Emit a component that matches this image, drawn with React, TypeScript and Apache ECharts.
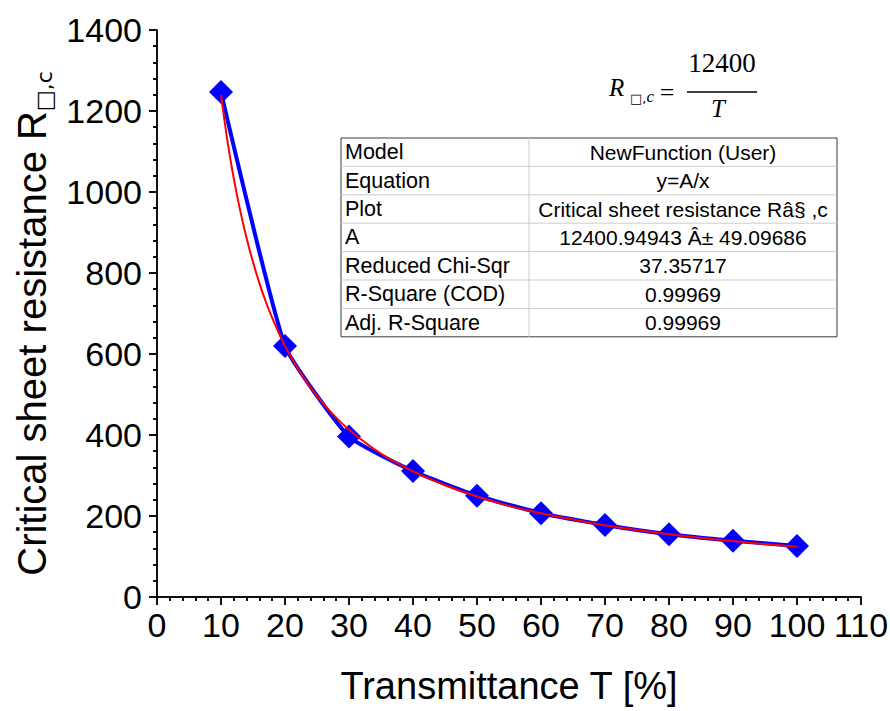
import React, { useEffect, useRef } from "react";
import * as echarts from "echarts";

const transmittance = [10, 20, 30, 40, 50, 60, 70, 80, 90, 100];
const sheetResistance = [1247, 620, 396, 311, 250, 207, 178, 155, 139, 126];

const fitX = [10, 11, 12, 13, 14, 15, 16, 17, 18, 19, 20, 22, 24, 26, 28, 30, 33, 36, 40, 45, 50, 55, 60, 70, 80, 90, 100];
const fitY = [1240, 1127, 1033, 954, 886, 827, 775, 729, 689, 653, 620, 564, 517, 477, 443, 413, 376, 344, 310, 276, 248, 225, 207, 177, 155, 138, 124];

const tableLabels = ["Model", "Equation", "Plot", "A", "Reduced Chi-Sqr", "R-Square (COD)", "Adj. R-Square"];
const tableValues = [
  "NewFunction (User)",
  "y=A/x",
  "Critical sheet resistance Râ§ ,c",
  "12400.94943 Â± 49.09686",
  "37.35717",
  "0.99969",
  "0.99969",
];

const FONT = "'Liberation Sans', Arial, sans-serif";
const SERIF = "'Liberation Serif', 'DejaVu Serif', serif";
const W = 890;
const H = 711;

export default function App() {
  const ref = useRef<HTMLDivElement>(null);
  useEffect(() => {
    if (!ref.current) return;
    document.body.style.margin = "0";
    document.body.style.overflow = "hidden";
    const chart = echarts.init(ref.current, undefined, { renderer: "svg" });

    const tLeft = 341, tRight = 837, tTop = 138, rowH = 28.4, colX = 529;
    const tableEls: any[] = [];
    tableEls.push({
      type: "rect",
      shape: { x: tLeft, y: tTop, width: tRight - tLeft, height: rowH * 7 },
      style: { fill: "#fff", stroke: "#3a3a3a", lineWidth: 1 },
      z: 10,
    });
    for (let i = 1; i < 7; i++) {
      tableEls.push({
        type: "line",
        shape: { x1: tLeft, y1: tTop + rowH * i, x2: tRight, y2: tTop + rowH * i },
        style: { stroke: "#cccccc", lineWidth: 1 },
        z: 11,
      });
    }
    tableEls.push({
      type: "line",
      shape: { x1: colX, y1: tTop, x2: colX, y2: tTop + rowH * 7 },
      style: { stroke: "#cccccc", lineWidth: 1 },
      z: 11,
    });
    tableLabels.forEach((l, i) => {
      tableEls.push({
        type: "text",
        x: tLeft + 4,
        y: tTop + rowH * (i + 0.5),
        style: { text: l, fontSize: 21.5, fontFamily: FONT, fill: "#000", align: "left", verticalAlign: "middle" },
        z: 12,
      });
    });
    tableValues.forEach((v, i) => {
      tableEls.push({
        type: "text",
        x: (colX + tRight) / 2,
        y: tTop + rowH * (i + 0.5),
        style: { text: v, fontSize: 21, fontFamily: FONT, fill: "#000", align: "center", verticalAlign: "middle" },
        z: 12,
      });
    });

    const formulaEls: any[] = [
      { type: "text", x: 609, y: 100, style: { text: "R", fontSize: 25, fontStyle: "italic", fontFamily: SERIF, fill: "#000", verticalAlign: "bottom" } },
      {
        type: "text",
        x: 630,
        y: 105,
        style: {
          text: "{a|□,}{b|c}",
          verticalAlign: "bottom",
          rich: {
            a: { fontSize: 13, fontFamily: "'DejaVu Sans', sans-serif", fill: "#000", verticalAlign: "bottom" },
            b: { fontSize: 17, fontStyle: "italic", fontFamily: SERIF, fill: "#000", verticalAlign: "bottom" },
          },
        },
      },
      { type: "text", x: 667, y: 92, style: { text: "=", fontSize: 26, fontFamily: SERIF, fill: "#000", align: "center", verticalAlign: "middle" } },
      { type: "text", x: 722, y: 76, style: { text: "12400", fontSize: 27, fontFamily: SERIF, fill: "#000", align: "center", verticalAlign: "bottom" } },
      { type: "line", shape: { x1: 687, y1: 92, x2: 757, y2: 92 }, style: { stroke: "#000", lineWidth: 1.5 } },
      { type: "text", x: 718, y: 121, style: { text: "T", fontSize: 25, fontStyle: "italic", fontFamily: SERIF, fill: "#000", align: "center", verticalAlign: "bottom" } },
    ];

    const axisLine = { show: true, lineStyle: { color: "#000", width: 1.5 } };
    const fmt = (v: number) => String(v);

    chart.setOption({
      animation: false,
      backgroundColor: "#fff",
      grid: {
        left: 157,
        right: W - 861,
        top: 30,
        bottom: H - 597,
        outerBoundsMode: "none",
        containLabel: false,
      },
      xAxis: [
        {
          type: "value",
          min: 0,
          max: 110,
          interval: 10,
          position: "bottom",
          axisLine,
          axisTick: { show: true, inside: false, length: 8, lineStyle: { color: "#000", width: 1.5 } },
          minorTick: { show: true, splitNumber: 5, length: 4, lineStyle: { color: "#000", width: 1.5 } },
          splitLine: { show: false },
          axisLabel: { fontSize: 34, fontFamily: FONT, color: "#000", margin: 11, formatter: fmt },
          name: "Transmittance T [%]",
          nameLocation: "middle",
          nameGap: 70,
          nameTextStyle: { fontSize: 38, fontFamily: FONT, color: "#000" },
        },
        {
          type: "value",
          min: 0,
          max: 110,
          interval: 10,
          position: "top",
          axisLine,
          axisTick: { show: true, inside: true, length: 8, lineStyle: { color: "#000", width: 1.5 } },
          minorTick: { show: true, splitNumber: 5, length: 4, lineStyle: { color: "#000", width: 1.5 } },
          splitLine: { show: false },
          axisLabel: { show: false },
        },
      ],
      yAxis: [
        {
          type: "value",
          min: 0,
          max: 1400,
          interval: 200,
          position: "left",
          axisLine,
          axisTick: { show: true, inside: false, length: 8, lineStyle: { color: "#000", width: 1.5 } },
          minorTick: { show: true, splitNumber: 5, length: 4, lineStyle: { color: "#000", width: 1.5 } },
          splitLine: { show: false },
          axisLabel: { fontSize: 34, fontFamily: FONT, color: "#000", margin: 15, formatter: fmt },
          name: "Critical sheet resistance R{sub|□,c}",
          nameLocation: "middle",
          nameGap: 102,
          nameTextStyle: {
            fontSize: 40,
            fontFamily: FONT,
            color: "#000",
            lineHeight: 46,
            padding: [0, 20, 0, 0],
            rich: {
              sub: { fontSize: 22, fontFamily: "'DejaVu Sans', sans-serif", color: "#000", lineHeight: 18, verticalAlign: "bottom" },
            },
          },
        },
        {
          type: "value",
          min: 0,
          max: 1400,
          interval: 200,
          position: "right",
          axisLine,
          axisTick: { show: true, inside: true, length: 8, lineStyle: { color: "#000", width: 1.5 } },
          minorTick: { show: true, splitNumber: 5, length: 4, lineStyle: { color: "#000", width: 1.5 } },
          splitLine: { show: false },
          axisLabel: { show: false },
        },
      ],
      series: [
        {
          type: "line",
          name: "data",
          data: transmittance.map((x, i) => [x, sheetResistance[i]]),
          smooth: 0.15,
          symbol: "diamond",
          symbolSize: 24,
          itemStyle: { color: "#0000ff" },
          lineStyle: { color: "#0000ff", width: 4 },
          z: 2,
        },
        {
          type: "line",
          name: "fit",
          data: fitX.map((x, i) => [x, fitY[i]]),
          smooth: 0.3,
          showSymbol: false,
          symbol: "none",
          lineStyle: { color: "#ff0000", width: 2 },
          z: 3,
        },
      ],
      graphic: [...tableEls, ...formulaEls],
    });
    return () => chart.dispose();
  }, []);
  return <div ref={ref} style={{ width: W, height: H }} />;
}
